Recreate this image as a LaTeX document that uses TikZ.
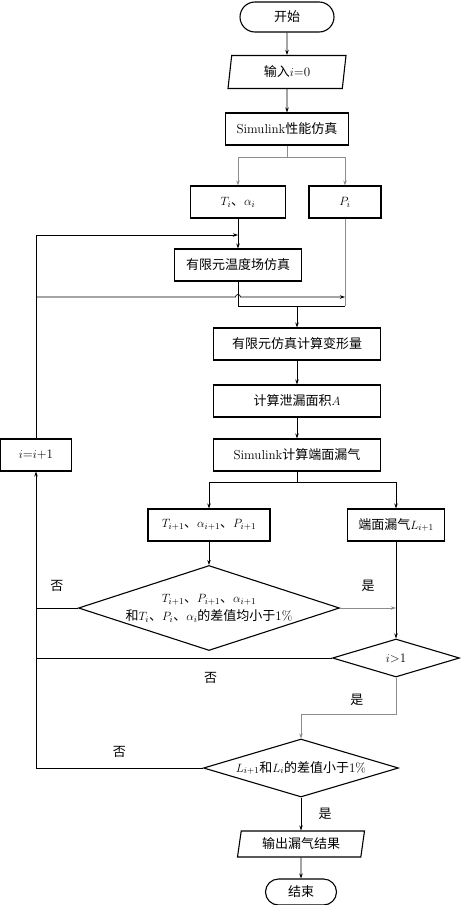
\documentclass[tikz,border=0pt]{standalone}
\usepackage{fontspec}
\usepackage{amsmath}
\newfontfamily\cjk{Noto Sans CJK SC}
\usetikzlibrary{arrows.meta,positioning,shapes.geometric,shapes.misc,calc}
\newcommand{\dun}{{\cjk 、}}
\tikzset{
  base/.style={draw,line width=1.1pt,inner sep=2pt,font=\fontsize{13}{15}\selectfont},
  procbox/.style={base,rectangle,minimum height=32pt},
  termbox/.style={base,rounded rectangle},
  iobox/.style={base,trapezium,trapezium left angle=77,trapezium right angle=103,
                trapezium stretches body},
  decbox/.style={base,diamond,inner sep=-4pt},
  link/.style={line width=0.7pt},
  flow/.style={link,-{Stealth[length=5pt,width=3.5pt]}},
  pale/.style={draw=black!45},
  tag/.style={font=\fontsize{13}{15}\selectfont}
}

\begin{document}
\begin{tikzpicture}[x=1pt,y=-1pt]
  \useasboundingbox (0,0) rectangle (462,905);
  % main column
  \node[termbox,minimum width=98pt,minimum height=30pt] (start) at (287,17) {{\cjk 开始}};
  \node[iobox,minimum width=118pt,minimum height=33pt] (input) at (287,72) {{\cjk 输入}$i$=0};
  \node[procbox,minimum width=123pt] (simperf) at (287,129) {Simulink{\cjk 性能仿真}};
  \node[procbox,minimum width=95pt] (tia) at (238,202) {$T_i$\dun$\alpha_i$};
  \node[procbox,minimum width=72pt] (pi) at (345,202) {$P_i$};
  \node[procbox,minimum width=127pt] (femtemp) at (238,265) {{\cjk 有限元温度场仿真}};
  \node[procbox,minimum width=167pt] (femdef) at (297,344) {{\cjk 有限元仿真计算变形量}};
  \node[procbox,minimum width=167pt] (area) at (297,401) {{\cjk 计算泄漏面积}$A$};
  \node[procbox,minimum width=167pt] (simleak) at (297,455) {Simulink{\cjk 计算端面漏气}};
  \node[procbox,minimum width=71pt] (inc) at (36,455) {$i$=$i$+1};
  \node[procbox,minimum width=122pt] (tap) at (209,525) {$T_{i+1}$\dun$\alpha_{i+1}$\dun$P_{i+1}$};
  \node[procbox,minimum width=97pt] (leak) at (396,525) {{\cjk 端面漏气}$L_{i+1}$};
  % checks
  \node[decbox,aspect=3.07,minimum width=261pt,minimum height=85pt,align=center,
        font=\fontsize{13}{18}\selectfont] (chkdiff) at (209,608)
        {$T_{i+1}$\dun$P_{i+1}$\dun$\alpha_{i+1}$\\{\cjk 和}$T_i$\dun$P_i$\dun$\alpha_i${\cjk 的差值均小于}1\%};
  \node[decbox,aspect=3.34,minimum width=127pt,minimum height=38pt] (chki) at (396,658) {$i$>1};
  \node[decbox,aspect=3.36,minimum width=195pt,minimum height=58pt] (chkleak) at (301,768)
        {$L_{i+1}${\cjk 和}$L_i${\cjk 的差值小于}1\%};
  \node[iobox,minimum width=127pt,minimum height=26pt] (output) at (301,844) {{\cjk 输出漏气结果}};
  \node[termbox,minimum width=75pt,minimum height=26pt] (stop) at (301,892) {{\cjk 结束}};

  % connectors
  \draw[flow] (start) -- (input);
  \draw[flow] (input) -- (simperf);
  \coordinate[below=12pt of simperf.south] (split1);
  \draw[link,pale] (simperf) -- (split1);
  \draw[flow,pale] (split1) -| (tia);
  \draw[flow,pale] (split1) -| (pi);
  \draw[flow] (tia) -- (femtemp);
  \coordinate (looptop) at (36,235);
  \draw[flow] (inc) -- (inc |- looptop) -- (tia.south |- looptop);
  \coordinate (hop) at (238,297);
  \draw[flow] (inc.north |- hop) -- ([xshift=-2.5pt]hop)
    arc[start angle=180,end angle=0,radius=2.5pt] -- (pi.south |- hop);
  \coordinate (merge) at (297,306);
  \draw[link] (femtemp) |- (pi.south |- merge);
  \draw[link,pale] (pi) -- (pi.south |- merge);
  \draw[flow] (merge) -- (femdef);
  \draw[flow] (femdef) -- (area);
  \draw[flow] (area) -- (simleak);
  \coordinate[below=11pt of simleak.south] (split2);
  \draw[link] (simleak) -- (split2);
  \draw[flow] (split2) -| (tap);
  \draw[flow] (split2) -| (leak);
  \draw[flow] (tap) -- (chkdiff);
  \draw[link] (chkdiff.west) -- node[tag,above=13pt] {{\cjk 否}} (chkdiff.west -| inc);
  \draw[flow,pale] (chkdiff.east) -- node[tag,above=13pt] {{\cjk 是}} (chkdiff.east -| leak);
  \draw[flow] (leak) -- (chki);
  \draw[link] (chki.west) -- node[tag,below=11pt,pos=0.41] {{\cjk 否}} (chki.west -| inc);
  \draw[flow,pale] (chki.south) -- node[tag,left=29pt,pos=0.6] {{\cjk 是}} ++(0,37) -| (chkleak);
  \draw[flow] (chkleak.west) -- node[tag,above=7pt] {{\cjk 否}} (chkleak.west -| inc) -- (inc);
  \draw[flow] (chkleak) -- node[tag,right=14pt] {{\cjk 是}} (output);
  \draw[flow] (output) -- (stop);
\end{tikzpicture}
\end{document}
